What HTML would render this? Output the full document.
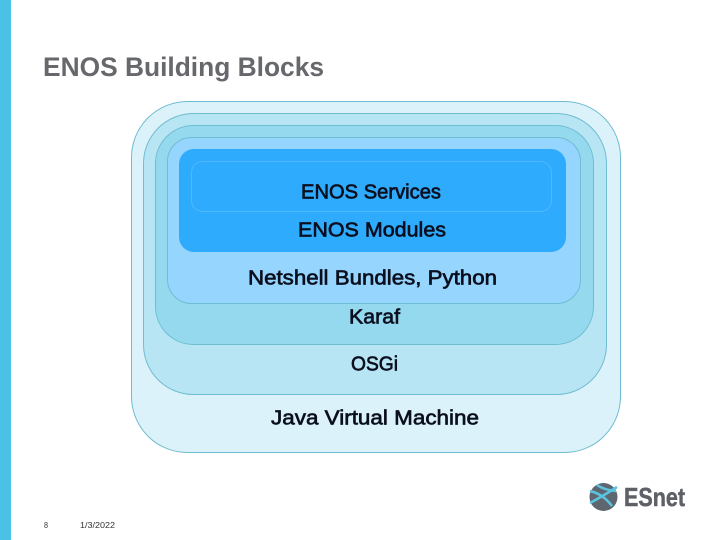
<!DOCTYPE html>
<html><head><meta charset="utf-8"><style>
html,body{margin:0;padding:0;background:#fff;width:720px;height:540px;overflow:hidden}
svg{display:block}
text{font-family:"Liberation Sans",sans-serif}
.l{font-size:20.5px;fill:#0a0f1e;stroke:#0a0f1e;stroke-width:.65px}
</style></head><body>
<svg width="720" height="540" viewBox="0 0 720 540">
<rect width="720" height="540" fill="#fff"/>
<rect x="0" y="0" width="11" height="540" fill="#4cc1e6"/>
<text x="43" y="76" font-size="27" font-weight="700" fill="#66686c" textLength="281" lengthAdjust="spacingAndGlyphs">ENOS Building Blocks</text>
<rect x="131.5" y="101.5" width="489" height="351" rx="56" fill="#dcf2fa" stroke="#6fbdd0"/>
<rect x="143.5" y="113.5" width="463" height="281" rx="50" fill="#b8e5f4" stroke="#6fbdd0"/>
<rect x="155.5" y="125.5" width="438" height="219" rx="38" fill="#95d9ef" stroke="#6fbdd0"/>
<rect x="167.5" y="137.5" width="413" height="166" rx="24" fill="#96d5fe" stroke="#6fbdd0"/>
<rect x="179" y="149" width="387" height="103" rx="15" fill="#2fabfe"/>
<rect x="191.5" y="161.5" width="360" height="50" rx="11" fill="#2fabfe" stroke="#4fb8fd"/>
<text class="l" x="301" y="198.5" textLength="140" lengthAdjust="spacingAndGlyphs">ENOS Services</text>
<text class="l" x="298" y="236.5" textLength="148" lengthAdjust="spacingAndGlyphs">ENOS Modules</text>
<text class="l" x="248" y="284.5" textLength="249" lengthAdjust="spacingAndGlyphs">Netshell Bundles, Python</text>
<text class="l" x="349" y="323.5" textLength="51" lengthAdjust="spacingAndGlyphs">Karaf</text>
<text class="l" x="351" y="370.5" textLength="47" lengthAdjust="spacingAndGlyphs">OSGi</text>
<text class="l" x="271" y="424.5" textLength="208" lengthAdjust="spacingAndGlyphs">Java Virtual Machine</text>
<text x="44" y="528" font-size="8" fill="#333" textLength="4" lengthAdjust="spacingAndGlyphs">8</text>
<text x="80" y="528" font-size="8" fill="#333" textLength="35" lengthAdjust="spacingAndGlyphs">1/3/2022</text>
<circle cx="603.5" cy="497" r="14" fill="#5e6670"/>
<path d="M590 491 Q603 494 612 506 M590 503 Q603 496 617 487 M597 485 Q604 490 616 491" fill="none" stroke="#5cc3de" stroke-width="2.6"/>
<text x="624" y="506" font-size="26" font-weight="700" fill="#5d6066" stroke="#5d6066" stroke-width=".5" textLength="61" lengthAdjust="spacingAndGlyphs">ESnet</text>
</svg>
</body></html>
